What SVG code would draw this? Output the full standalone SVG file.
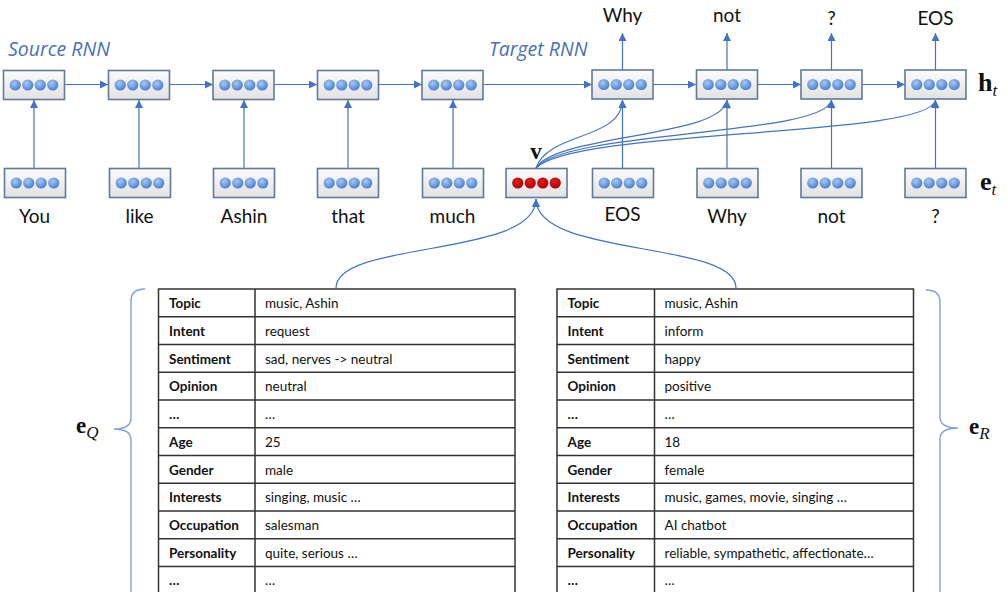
<svg xmlns="http://www.w3.org/2000/svg" xmlns:xlink="http://www.w3.org/1999/xlink" width="1007" height="592" viewBox="0 0 1007 592">
<style>
.lbl{font-family:Lato,"Liberation Sans",sans-serif;font-size:19px;fill:#111;text-anchor:middle}
.rnn{font-family:"Open Sans","Liberation Sans",sans-serif;font-size:19.5px;font-style:italic;fill:#4a6fb5}
.math{font-family:"Liberation Serif","DejaVu Serif",serif;font-weight:bold;font-size:23px;fill:#111}
.big{font-size:26px}
.sub{font-family:"Liberation Serif","DejaVu Serif",serif;font-style:italic;font-weight:normal;font-size:17px}
.conn{fill:none;stroke:#4472c4;stroke-width:1.2}
.brace{fill:none;stroke:#7f9fd9;stroke-width:1.4}
.grid{fill:none;stroke:#333;stroke-width:1.5}
.k{font-family:Lato,"Liberation Sans",sans-serif;font-size:13.5px;font-weight:bold;fill:#111}
.val{font-family:Lato,"Liberation Sans",sans-serif;font-size:13.5px;fill:#111}
</style>
<defs>
<linearGradient id="cellg" x1="0" y1="0" x2="0" y2="1">
<stop offset="0" stop-color="#fbfbfb"/>
<stop offset="1" stop-color="#e2e2e2"/>
</linearGradient>
<radialGradient id="blueg" cx="0.4" cy="0.35" r="0.65">
<stop offset="0" stop-color="#a9c8f2"/>
<stop offset="1" stop-color="#4a7fd0"/>
</radialGradient>
<radialGradient id="redg" cx="0.4" cy="0.35" r="0.65">
<stop offset="0" stop-color="#e02020"/>
<stop offset="1" stop-color="#b00000"/>
</radialGradient>
<marker id="ah" viewBox="0 0 10 10" refX="10" refY="5" markerWidth="9" markerHeight="8" markerUnits="userSpaceOnUse" orient="auto">
<path d="M0,0 L10,5 L0,10 z" fill="#4472c4"/>
</marker>
<g id="cellB">
<rect x="0" y="0" width="61" height="29" fill="url(#cellg)" stroke="#62799a" stroke-width="1.6"/>
<circle cx="11.75" cy="14.5" r="5.6" fill="url(#blueg)"/>
<circle cx="24.25" cy="14.5" r="5.6" fill="url(#blueg)"/>
<circle cx="36.75" cy="14.5" r="5.6" fill="url(#blueg)"/>
<circle cx="49.25" cy="14.5" r="5.6" fill="url(#blueg)"/>
</g>
<g id="cellR">
<rect x="0" y="0" width="61" height="29" fill="url(#cellg)" stroke="#62799a" stroke-width="1.6"/>
<circle cx="11.75" cy="14.5" r="5.6" fill="url(#redg)"/>
<circle cx="24.25" cy="14.5" r="5.6" fill="url(#redg)"/>
<circle cx="36.75" cy="14.5" r="5.6" fill="url(#redg)"/>
<circle cx="49.25" cy="14.5" r="5.6" fill="url(#redg)"/>
</g>
</defs>
<rect width="1007" height="592" fill="#fff"/>

<text class="rnn" x="8" y="56">Source RNN</text>
<text class="rnn" x="489" y="56">Target RNN</text>

<g id="connectors">
<path class="conn" d="M64,84.5 H108" marker-end="url(#ah)"/>
<path class="conn" d="M169,84.5 H213" marker-end="url(#ah)"/>
<path class="conn" d="M274,84.5 H317" marker-end="url(#ah)"/>
<path class="conn" d="M378,84.5 H422" marker-end="url(#ah)"/>
<path class="conn" d="M483,84.5 H592" marker-end="url(#ah)"/>
<path class="conn" d="M653,84.5 H696" marker-end="url(#ah)"/>
<path class="conn" d="M757,84.5 H801" marker-end="url(#ah)"/>
<path class="conn" d="M862,84.5 H905" marker-end="url(#ah)"/>
<path class="conn" d="M34,168 V100" marker-end="url(#ah)"/>
<path class="conn" d="M139,168 V100" marker-end="url(#ah)"/>
<path class="conn" d="M244,168 V100" marker-end="url(#ah)"/>
<path class="conn" d="M348,168 V100" marker-end="url(#ah)"/>
<path class="conn" d="M453,168 V100" marker-end="url(#ah)"/>
<path class="conn" d="M622.5,168 V100" marker-end="url(#ah)"/>
<path class="conn" d="M727,168 V100" marker-end="url(#ah)"/>
<path class="conn" d="M831.5,168 V100" marker-end="url(#ah)"/>
<path class="conn" d="M935.5,168 V100" marker-end="url(#ah)"/>
<path class="conn" d="M622.5,70 V33" marker-end="url(#ah)"/>
<path class="conn" d="M727,70 V33" marker-end="url(#ah)"/>
<path class="conn" d="M831.5,70 V33" marker-end="url(#ah)"/>
<path class="conn" d="M935.5,70 V33" marker-end="url(#ah)"/>
<path class="conn" d="M536,168 C548,132 622,140 622.5,100" marker-end="url(#ah)"/>
<path class="conn" d="M536,168 C556,134 722,138 727,100" marker-end="url(#ah)"/>
<path class="conn" d="M536,168 C566,130 826,136 831.5,100" marker-end="url(#ah)"/>
<path class="conn" d="M536,168 C576,128 930,138 935.5,100" marker-end="url(#ah)"/>
<path class="conn" d="M336,288 C336,240 536,258 536,199" marker-end="url(#ah)"/>
<path class="conn" d="M736,288 C736,240 536,258 536,199" marker-end="url(#ah)"/>
</g>

<g id="src1"><use xlink:href="#cellB" x="3.5" y="70.5"/></g>
<g id="src2"><use xlink:href="#cellB" x="108.5" y="70.5"/></g>
<g id="src3"><use xlink:href="#cellB" x="213" y="70.5"/></g>
<g id="src4"><use xlink:href="#cellB" x="317.5" y="70.5"/></g>
<g id="src5"><use xlink:href="#cellB" x="422" y="70.5"/></g>
<g id="tgt1"><use xlink:href="#cellB" x="592" y="70"/></g>
<g id="tgt2"><use xlink:href="#cellB" x="696.5" y="70"/></g>
<g id="tgt3"><use xlink:href="#cellB" x="801" y="70"/></g>
<g id="tgt4"><use xlink:href="#cellB" x="905" y="70"/></g>

<g id="emb1"><use xlink:href="#cellB" x="4.5" y="168.5"/><text class="lbl" x="34.5" y="223">You</text></g>
<g id="emb2"><use xlink:href="#cellB" x="109.5" y="168.5"/><text class="lbl" x="139.5" y="223">like</text></g>
<g id="emb3"><use xlink:href="#cellB" x="213.5" y="168.5"/><text class="lbl" x="244" y="223">Ashin</text></g>
<g id="emb4"><use xlink:href="#cellB" x="317.5" y="168.5"/><text class="lbl" x="348" y="223">that</text></g>
<g id="emb5"><use xlink:href="#cellB" x="422.5" y="168.5"/><text class="lbl" x="452.5" y="223">much</text></g>
<g id="vnode"><use xlink:href="#cellR" x="506" y="168.5"/><text class="math" x="536" y="159" text-anchor="middle">v</text></g>
<g id="emb6"><use xlink:href="#cellB" x="592.5" y="168.5"/><text class="lbl" x="622.5" y="221">EOS</text></g>
<g id="emb7"><use xlink:href="#cellB" x="697" y="168.5"/><text class="lbl" x="727" y="223">Why</text></g>
<g id="emb8"><use xlink:href="#cellB" x="801" y="168.5"/><text class="lbl" x="831.5" y="223">not</text></g>
<g id="emb9"><use xlink:href="#cellB" x="905" y="168.5"/><text class="lbl" x="935.5" y="223">?</text></g>

<g id="outputs">
<text class="lbl" x="622.5" y="22">Why</text>
<text class="lbl" x="727" y="22">not</text>
<text class="lbl" x="831.5" y="25">?</text>
<text class="lbl" x="935.5" y="25">EOS</text>
</g>

<g id="ht"><text class="math big" x="978" y="91">h<tspan class="sub" dy="5">t</tspan></text></g>
<g id="et"><text class="math big" x="980" y="190">e<tspan class="sub" dy="5">t</tspan></text></g>

<g id="eQ">
<path class="brace" d="M145,289 Q131,289 131,301 L131,418 Q131,429 114,429 Q131,429 131,440 L131,600"/>
<text class="math" x="76" y="433">e<tspan class="sub" dy="5">Q</tspan></text>
</g>
<g id="eR">
<path class="brace" d="M926,290 Q940,290 940,302 L940,417 Q940,428 958,428 Q940,428 940,439 L940,600"/>
<text class="math" x="969" y="434">e<tspan class="sub" dy="5">R</tspan></text>
</g>

<g id="tableQ">
<rect class="grid" x="158.5" y="289" width="356.5" height="305"/>
<path class="grid" d="M255,289 V594 M158.5,316.75 H515 M158.5,344.5 H515 M158.5,372.25 H515 M158.5,400 H515 M158.5,427.75 H515 M158.5,455.5 H515 M158.5,483.25 H515 M158.5,511 H515 M158.5,538.75 H515 M158.5,566.5 H515"/>
<text class="k" x="169" y="308">Topic</text><text class="val" x="265" y="308">music, Ashin</text>
<text class="k" x="169" y="335.5">Intent</text><text class="val" x="265" y="335.5">request</text>
<text class="k" x="169" y="363.5">Sentiment</text><text class="val" x="265" y="363.5">sad, nerves -&gt; neutral</text>
<text class="k" x="169" y="391">Opinion</text><text class="val" x="265" y="391">neutral</text>
<text class="k" x="169" y="419">…</text><text class="val" x="265" y="419">…</text>
<text class="k" x="169" y="446.5">Age</text><text class="val" x="265" y="446.5">25</text>
<text class="k" x="169" y="474.5">Gender</text><text class="val" x="265" y="474.5">male</text>
<text class="k" x="169" y="502">Interests</text><text class="val" x="265" y="502">singing, music …</text>
<text class="k" x="169" y="530">Occupation</text><text class="val" x="265" y="530">salesman</text>
<text class="k" x="169" y="557.5">Personality</text><text class="val" x="265" y="557.5">quite, serious …</text>
<text class="k" x="169" y="585">…</text><text class="val" x="265" y="585">…</text>
</g>

<g id="tableR">
<rect class="grid" x="557" y="289" width="356.5" height="305"/>
<path class="grid" d="M654.5,289 V594 M557,316.75 H913.5 M557,344.5 H913.5 M557,372.25 H913.5 M557,400 H913.5 M557,427.75 H913.5 M557,455.5 H913.5 M557,483.25 H913.5 M557,511 H913.5 M557,538.75 H913.5 M557,566.5 H913.5"/>
<text class="k" x="567.5" y="308">Topic</text><text class="val" x="664.5" y="308">music, Ashin</text>
<text class="k" x="567.5" y="335.5">Intent</text><text class="val" x="664.5" y="335.5">inform</text>
<text class="k" x="567.5" y="363.5">Sentiment</text><text class="val" x="664.5" y="363.5">happy</text>
<text class="k" x="567.5" y="391">Opinion</text><text class="val" x="664.5" y="391">positive</text>
<text class="k" x="567.5" y="419">…</text><text class="val" x="664.5" y="419">…</text>
<text class="k" x="567.5" y="446.5">Age</text><text class="val" x="664.5" y="446.5">18</text>
<text class="k" x="567.5" y="474.5">Gender</text><text class="val" x="664.5" y="474.5">female</text>
<text class="k" x="567.5" y="502">Interests</text><text class="val" x="664.5" y="502">music, games, movie, singing …</text>
<text class="k" x="567.5" y="530">Occupation</text><text class="val" x="664.5" y="530">AI chatbot</text>
<text class="k" x="567.5" y="557.5">Personality</text><text class="val" x="664.5" y="557.5">reliable, sympathetic, affectionate…</text>
<text class="k" x="567.5" y="585">…</text><text class="val" x="664.5" y="585">…</text>
</g>
</svg>
